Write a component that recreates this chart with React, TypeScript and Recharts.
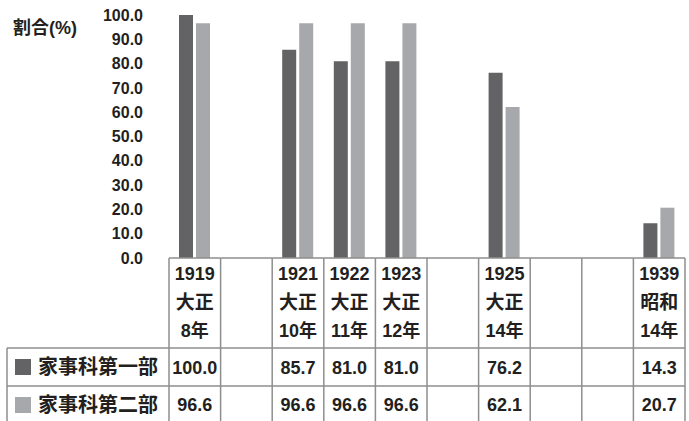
import { BarChart, Bar, XAxis, YAxis } from "recharts";

const years = ["1919", "", "1921", "1922", "1923", "", "1925", "", "", "1939"];
const eras = ["大正", "", "大正", "大正", "大正", "", "大正", "", "", "昭和"];
const eraYears = ["8年", "", "10年", "11年", "12年", "", "14年", "", "", "14年"];
const dept1 = [100.0, null, 85.7, 81.0, 81.0, null, 76.2, null, null, 14.3];
const dept2 = [96.6, null, 96.6, 96.6, 96.6, null, 62.1, null, null, 20.7];
const seriesNames = ["家事科第一部", "家事科第二部"];
const yTicks = [0, 10, 20, 30, 40, 50, 60, 70, 80, 90, 100];

const DARK = "#636365";
const LIGHT = "#a7a8ab";
const LINE = "#8e8e8e";
const INK = "#231f20";
const FONT = '"Liberation Sans", "Noto Sans CJK JP", sans-serif';

const data = years.map((y, i) => ({
  key: `c${i}`,
  dept1: dept1[i],
  dept2: dept2[i],
}));

// chart frame
const W = 689;
const H = 421;
const AXIS_W = 169;
const RIGHT = 4;
const COL_W = (W - AXIS_W - RIGHT) / years.length;

const fmt = (v: number | null) => (v == null ? "" : v.toFixed(1));

//table cell drawn under every category
const TableTick = (props: any) => {
  const { x, y, payload } = props;
  const i = props.index ?? payload.index;
  const left = x - COL_W / 2;
  const right = x + COL_W / 2;
  const textStyle = { fontFamily: FONT, fontWeight: 700, fill: INK };
  return (
    <g>
      <line x1={left} x2={right} y1={y} y2={y} stroke={LINE} strokeWidth={1.5} />
      <line x1={left} x2={right} y1={y + 90} y2={y + 90} stroke={LINE} strokeWidth={1.5} />
      <line x1={left} x2={right} y1={y + 128} y2={y + 128} stroke={LINE} strokeWidth={1.5} />
      <line x1={left} x2={left} y1={y} y2={H} stroke={LINE} strokeWidth={1.5} />
      {i === years.length - 1 && (
        <line x1={right} x2={right} y1={y} y2={H} stroke={LINE} strokeWidth={1.5} />
      )}
      <text x={x} y={y + 22} textAnchor="middle" fontSize={18} {...textStyle}>{years[i]}</text>
      <text x={x} y={y + 51} textAnchor="middle" fontSize={19} {...textStyle}>{eras[i]}</text>
      <text x={x} y={y + 79} textAnchor="middle" fontSize={18} {...textStyle}>{eraYears[i]}</text>
      <text x={x} y={y + 116} textAnchor="middle" fontSize={18} {...textStyle}>{fmt(dept1[i])}</text>
      <text x={x} y={y + 153} textAnchor="middle" fontSize={18} {...textStyle}>{fmt(dept2[i])}</text>
      {i === 0 && (
        <g>
          <line x1={7} x2={left} y1={y + 90} y2={y + 90} stroke={LINE} strokeWidth={1.5} />
          <line x1={7} x2={left} y1={y + 128} y2={y + 128} stroke={LINE} strokeWidth={1.5} />
          <line x1={7} x2={7} y1={y + 90} y2={H} stroke={LINE} strokeWidth={1.5} />
          <rect x={15} y={y + 101} width={16} height={16} fill={DARK} />
          <rect x={15} y={y + 139} width={16} height={16} fill={LIGHT} />
          <text x={38} y={y + 116} fontSize={20} {...textStyle}>{seriesNames[0]}</text>
          <text x={38} y={y + 154} fontSize={20} {...textStyle}>{seriesNames[1]}</text>
        </g>
      )}
    </g>
  );
};

const App = () => {
  return (
    <div style={{ width: W, height: H }}>
      <style>{`body{margin:0}`}</style>
      <BarChart
        width={W}
        height={H}
        data={data}
        margin={{ top: 15, right: RIGHT, left: 0, bottom: 0 }}
        barSize={14}
        barGap={3}
      >
        <XAxis
          dataKey="key"
          height={H - 258}
          interval={0}
          axisLine={false}
          tickLine={false}
          tickSize={0}
          tickMargin={0}
          tick={<TableTick />}
        />
        <YAxis
          width={AXIS_W}
          domain={[0, 100]}
          ticks={yTicks}
          interval={0}
          axisLine={false}
          tickLine={false}
          tickSize={0}
          tickMargin={26}
          tickFormatter={(v: number) => v.toFixed(1)}
          tick={{ fontSize: 16, fontWeight: 700, fill: INK, fontFamily: FONT }}
          label={() => (
            <text x={13} y={34} fontSize={18} fontWeight={700} fill={INK} fontFamily={FONT}>
              割合(%)
            </text>
          )}
        />
        <Bar dataKey="dept1" name={seriesNames[0]} fill={DARK} isAnimationActive={false} />
        <Bar dataKey="dept2" name={seriesNames[1]} fill={LIGHT} isAnimationActive={false} />
      </BarChart>
    </div>
  );
};

export default App;
